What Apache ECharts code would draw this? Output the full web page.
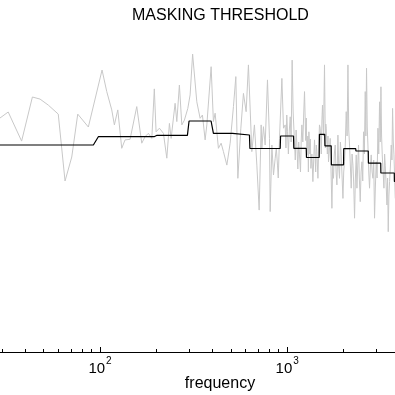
<!DOCTYPE html>
<html>
<head>
<meta charset="utf-8">
<script src="https://cdn.jsdelivr.net/npm/echarts@6/dist/echarts.min.js"></script>
<style>
html,body{margin:0;padding:0;background:#fff;}
#chart{width:395px;height:395px;}
</style>
</head>
<body>
<div id="chart"></div>
<script>
// Spectrum (grey) : frequency (Hz) and level
const specFreq = [29.2,32.3,38.1,43.5,47.8,52.9,59.8,65.0,70.6,76.0,86.6,102.5,108.6,115.5,119.3,124.4,130.6,136.0,144.7,157.1,167.1,174.1,181.3,189.1,195.0,199.3,207.6,218.1,227.4,234.8,239.8,251.8,257.2,265.5,273.5,282.4,294.4,302.9,312.4,328.9,342.6,352.5,364.4,372.1,392.3,403.5,412.1,420.8,429.1,443.6,456.4,476.0,495.7,516.2,531.7,545.0,565.5,583.9,603.5,620.8,647.3,668.4,688.6,708.4,726.1,732.3,746.9,762.7,784.7,804.3,811.2,828.4,845.0,862.9,875,887.7,896,909.8,937.0,955.7,975.7,985,995,1004,1015,1027,1038,1050,1063,1076,1090,1105,1116,1127,1140,1152,1164,1178,1188,1198,1212,1225,1238,1256,1265,1274,1290,1298,1306,1322,1330,1339,1355,1372,1386,1400,1420,1431,1441,1460,1474,1488,1501,1522,1533,1544,1563,1583,1600,1608,1616,1640,1652,1663,1680,1698,1716,1734,1750,1768,1786,1806,1825,1844,1856,1867,1885,1904,1925,1945,1966,1986,2005,2025,2046,2068,2090,2112,2133,2154,2176,2199,2222,2246,2268,2291,2315,2339,2359,2382,2406,2430,2457,2483,2509,2534,2559,2585,2613,2634,2655,2678,2701,2728,2755,2784,2813,2843,2873,2900,2930,2960,2992,3023,3055,3085,3116,3143,3170,3195,3221,3255,3289,3316,3343,3378,3413,3440,3468,3496,3525,3562,3599,3628,3658,3690,3721,3751,3781];
const specLevel = [78.0,80.0,70.3,85.0,84.3,82.3,79.3,57.0,65.0,79.3,75.0,94.0,86.8,80.7,75.7,80.7,67.9,70.7,70.9,81.8,69.6,71.8,72.9,71.2,87.7,73.4,74.6,72.9,64.6,76.2,71.2,82.9,76.8,89.0,75.7,77.3,81.2,85.7,99.3,83.4,77.9,79.0,70.7,75.7,95.1,76.8,79.6,73.4,67.9,69.6,66.8,62.3,69.6,81.8,91.8,57.9,74.6,86.2,80.1,95.7,66.8,75.7,62.3,47.3,75.7,67.9,75.1,69.0,90.7,71.2,46.8,69.0,59.0,64.6,68,62.3,58,71.2,91.2,74.6,75.7,68,79,73.4,66,74,78.4,70,97.3,80,72.3,64,74,69.0,61,70,65.7,60,70,75.7,70,79,86.8,70.5,78,65.7,72,60,73.4,66,71,61.2,66,56.8,64,70.7,60,69,66.8,57.9,68,75.7,74.6,66,77,82.3,72,95.7,68,76,74.6,66,72,63.4,67,71.2,60,47.9,62,57.9,66,69.0,60,55.7,64,72.3,62,57.9,70,65.7,58,51.2,60,63.4,70,80.1,72,95.7,74,69.0,62,54.6,66,62.3,56,44.6,58,65.7,54.6,62,69.0,58,50.1,60,63.4,57,73.4,66,86.8,72,94.6,75,69.0,60,54.6,62,65.7,60,57.9,64,44.6,55,63.4,58,74.6,66,83.4,70,88.4,72,65.7,60,54.6,66,62.3,56,49.0,58,40.1,52,56.8,62,69.0,64,81.2,70,65.7,58,51.2];

// Masking threshold (black) : frequency (Hz) and level
const maskFreq = [29.2,92.1,97.9,194.4,201.7,293,299,392,403.5,510,512,628.6,632,917.6,922,1081,1085,1264,1268,1483,1487,1587,1591,1719,1723,2001,2005,2325,2330,2712,2717,3162,3167,3735,3740,3800];
const maskLevel = [69.0,69.0,71.77,71.77,72.23,72.23,77.0,77.0,72.9,72.9,72.33,72.33,67.83,67.83,72.0,72.0,67.9,67.9,64.83,64.83,72.57,72.57,68.73,68.73,62.4,62.4,67.77,67.77,67.0,67.0,62.93,62.93,59.67,59.67,56.83,56.83];

const majorTicks = [100, 1000];
const minorTicks = [30,40,50,60,70,80,90,200,300,400,500,600,700,800,900,2000,3000];
const titleText = 'MASKING THRESHOLD';
const xName = 'frequency';

const FONT = '"Liberation Sans", Arial, Helvetica, sans-serif';
const xMin = 29.2, xMax = 6556;

const pairs = (xs, ys) => xs.map((x, i) => [x, ys[i]]);

const chart = echarts.init(document.getElementById('chart'), null, {renderer: 'canvas'});
chart.setOption({
  animation: false,
  backgroundColor: '#fff',
  title: {
    text: titleText,
    left: 132, top: 8, padding: 0,
    textStyle: {fontFamily: FONT, fontSize: 16, fontWeight: 'normal', color: '#000'}
  },
  grid: {left: 0, right: -45, top: 52, bottom: 43, containLabel: false, outerBoundsMode: 'none'},
  xAxis: [{
    type: 'log', logBase: 10, min: xMin, max: xMax,
    name: xName, nameLocation: 'middle', nameGap: 24, nameMoveOverlap: false,
    nameTextStyle: {fontFamily: FONT, fontSize: 16, color: '#000'},
    axisLine: {show: true, onZero: false, lineStyle: {color: '#000', width: 1}},
    axisTick: {show: true, inside: true, length: 5, customValues: majorTicks, lineStyle: {color: '#000'}},
    minorTick: {show: false},
    splitLine: {show: false},
    axisLabel: {
      show: true, margin: 4, customValues: majorTicks,
      formatter: function (v) { return '{b|10}{s|' + Math.round(Math.log10(v)) + '}'; },
      rich: {
        b: {fontFamily: FONT, fontSize: 15, color: '#000', lineHeight: 20, verticalAlign: 'bottom'},
        s: {fontFamily: FONT, fontSize: 10, color: '#000', lineHeight: 20, verticalAlign: 'top', padding: [0,0,0,1]}
      }
    }
  }, {
    type: 'log', logBase: 10, min: xMin, max: xMax, position: 'bottom',
    axisLine: {show: false},
    axisTick: {show: true, inside: true, length: 3, customValues: minorTicks, lineStyle: {color: '#000'}},
    axisLabel: {show: false},
    splitLine: {show: false}
  }],
  yAxis: {type: 'value', min: 0, max: 100, show: false},
  series: [{
    type: 'line', xAxisIndex: 0, data: pairs(specFreq, specLevel),
    showSymbol: false, symbol: 'none',
    lineStyle: {color: '#c8c8c8', width: 1}, z: 2
  }, {
    type: 'line', xAxisIndex: 0, data: pairs(maskFreq, maskLevel),
    showSymbol: false, symbol: 'none',
    lineStyle: {color: '#000', width: 1.2}, z: 3
  }]
});
</script>
</body>
</html>
